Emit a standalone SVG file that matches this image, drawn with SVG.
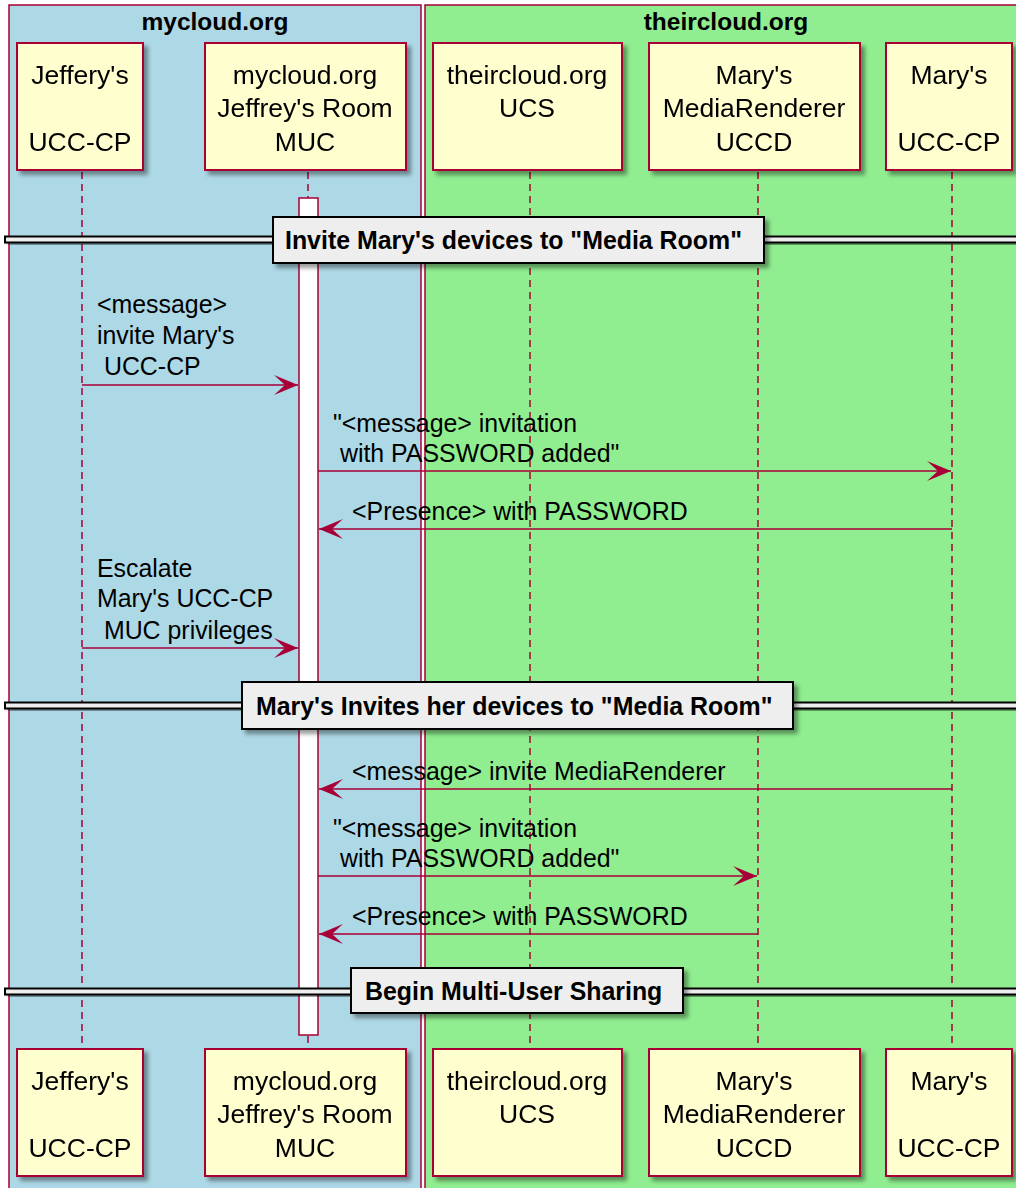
<svg xmlns="http://www.w3.org/2000/svg" width="1016" height="1188" viewBox="0 0 1016 1188">
<style>
.grp{stroke:#A80036;stroke-width:1.5}
.gt{font-family:"Liberation Sans",Arial,sans-serif;font-weight:bold;font-size:24.5px;fill:#000;text-anchor:middle}
.part{fill:#FEFECE;stroke:#A80036;stroke-width:2}
.pt{font-family:"Liberation Sans",Arial,sans-serif;font-size:26.5px;fill:#000;text-anchor:middle}
.life{stroke:#A80036;stroke-width:1.5;stroke-dasharray:7,5;fill:none}
.act{fill:#FFFFFF;stroke:#A80036;stroke-width:1.5}
.msg{stroke:#A80036;stroke-width:1.5;fill:none;marker-end:url(#ah)}
.mt{font-family:"Liberation Sans",Arial,sans-serif;font-size:24.9px;fill:#000;white-space:pre}
.dl{fill:#EEEEEE;stroke:#000;stroke-width:2}
.db{fill:#EEEEEE;stroke:#000;stroke-width:2}
.dt{font-family:"Liberation Sans",Arial,sans-serif;font-weight:bold;font-size:24.9px;fill:#000}
</style>
<defs>
<filter id="sh" x="-5%" y="-10%" width="115%" height="140%">
<feGaussianBlur in="SourceAlpha" stdDeviation="2"/>
<feOffset dx="4" dy="4" result="o"/>
<feComponentTransfer><feFuncA type="linear" slope="0.4"/></feComponentTransfer>
<feMerge><feMergeNode/><feMergeNode in="SourceGraphic"/></feMerge>
</filter>
<marker id="ah" markerUnits="userSpaceOnUse" viewBox="0 0 24 20" refX="24" refY="10" markerWidth="24" markerHeight="20" orient="auto">
<path d="M0,0 L24,10 L0,20 L11,10 Z" fill="#A80036"/>
</marker>
</defs>
<rect width="1016" height="1188" fill="#FFFFFF"/>

<g id="box-mycloud">
<rect class="grp" x="9" y="5" width="412" height="1200" fill="#ADD8E6"/>
<text class="gt" x="215" y="30">mycloud.org</text>
</g>
<g id="box-theircloud">
<rect class="grp" x="425" y="5" width="605" height="1200" fill="#90EE90"/>
<text class="gt" x="726" y="30">theircloud.org</text>
</g>

<g id="lifelines">
<line class="life" x1="82" y1="172" x2="82" y2="1049"/>
<line class="life" x1="308" y1="172" x2="308" y2="1049"/>
<line class="life" x1="530" y1="172" x2="530" y2="1049"/>
<line class="life" x1="758" y1="172" x2="758" y2="1049"/>
<line class="life" x1="952" y1="172" x2="952" y2="1049"/>
</g>

<g id="activation-muc">
<rect class="act" x="299" y="198" width="19" height="837"/>
</g>

<g id="p-jeffery-top" filter="url(#sh)">
<rect class="part" x="17" y="43" width="126" height="127"/>
<text class="pt" x="80" y="84">Jeffery's</text>
<text class="pt" x="80" y="151">UCC-CP</text>
</g>
<g id="p-muc-top" filter="url(#sh)">
<rect class="part" x="205" y="43" width="201" height="127"/>
<text class="pt" x="305" y="84">mycloud.org</text>
<text class="pt" x="305" y="117">Jeffrey's Room</text>
<text class="pt" x="305" y="151">MUC</text>
</g>
<g id="p-ucs-top" filter="url(#sh)">
<rect class="part" x="433" y="43" width="189" height="127"/>
<text class="pt" x="527" y="84">theircloud.org</text>
<text class="pt" x="527" y="117">UCS</text>
</g>
<g id="p-mr-top" filter="url(#sh)">
<rect class="part" x="649" y="43" width="211" height="127"/>
<text class="pt" x="754" y="84">Mary's</text>
<text class="pt" x="754" y="117">MediaRenderer</text>
<text class="pt" x="754" y="151">UCCD</text>
</g>
<g id="p-mary-top" filter="url(#sh)">
<rect class="part" x="886" y="43" width="126" height="127"/>
<text class="pt" x="949" y="84">Mary's</text>
<text class="pt" x="949" y="151">UCC-CP</text>
</g>

<g id="p-jeffery-bottom" filter="url(#sh)">
<rect class="part" x="17" y="1049" width="126" height="127"/>
<text class="pt" x="80" y="1090">Jeffery's</text>
<text class="pt" x="80" y="1157">UCC-CP</text>
</g>
<g id="p-muc-bottom" filter="url(#sh)">
<rect class="part" x="205" y="1049" width="201" height="127"/>
<text class="pt" x="305" y="1090">mycloud.org</text>
<text class="pt" x="305" y="1123">Jeffrey's Room</text>
<text class="pt" x="305" y="1157">MUC</text>
</g>
<g id="p-ucs-bottom" filter="url(#sh)">
<rect class="part" x="433" y="1049" width="189" height="127"/>
<text class="pt" x="527" y="1090">theircloud.org</text>
<text class="pt" x="527" y="1123">UCS</text>
</g>
<g id="p-mr-bottom" filter="url(#sh)">
<rect class="part" x="649" y="1049" width="211" height="127"/>
<text class="pt" x="754" y="1090">Mary's</text>
<text class="pt" x="754" y="1123">MediaRenderer</text>
<text class="pt" x="754" y="1157">UCCD</text>
</g>
<g id="p-mary-bottom" filter="url(#sh)">
<rect class="part" x="886" y="1049" width="126" height="127"/>
<text class="pt" x="949" y="1090">Mary's</text>
<text class="pt" x="949" y="1157">UCC-CP</text>
</g>

<g id="connectors">
<line class="msg" x1="82" y1="385" x2="298" y2="385"/>
<text class="mt" x="97" y="313" xml:space="preserve">&lt;message&gt;</text>
<text class="mt" x="97" y="344" xml:space="preserve">invite Mary's</text>
<text class="mt" x="97" y="375" xml:space="preserve"> UCC-CP</text>

<line class="msg" x1="318" y1="471" x2="951" y2="471"/>
<text class="mt" x="333" y="432" xml:space="preserve">"&lt;message&gt; invitation</text>
<text class="mt" x="333" y="462" xml:space="preserve"> with PASSWORD added"</text>

<line class="msg" x1="952" y1="529" x2="319" y2="529"/>
<text class="mt" x="352" y="520" xml:space="preserve">&lt;Presence&gt; with PASSWORD</text>

<line class="msg" x1="82" y1="648" x2="298" y2="648"/>
<text class="mt" x="97" y="577" xml:space="preserve">Escalate</text>
<text class="mt" x="97" y="607" xml:space="preserve">Mary's UCC-CP</text>
<text class="mt" x="97" y="639" xml:space="preserve"> MUC privileges</text>

<line class="msg" x1="952" y1="789" x2="319" y2="789"/>
<text class="mt" x="352" y="780" xml:space="preserve">&lt;message&gt; invite MediaRenderer</text>

<line class="msg" x1="318" y1="876" x2="757" y2="876"/>
<text class="mt" x="333" y="837" xml:space="preserve">"&lt;message&gt; invitation</text>
<text class="mt" x="333" y="867" xml:space="preserve"> with PASSWORD added"</text>

<line class="msg" x1="758" y1="934" x2="319" y2="934"/>
<text class="mt" x="352" y="925" xml:space="preserve">&lt;Presence&gt; with PASSWORD</text>
</g>

<g id="divider-1">
<rect class="dl" x="5" y="236.5" width="1030" height="6" filter="url(#sh)"/>
<rect class="db" x="273" y="217" width="491" height="46" filter="url(#sh)"/>
<text class="dt" x="285" y="249">Invite Mary's devices to "Media Room"</text>
</g>
<g id="divider-2">
<rect class="dl" x="5" y="702.5" width="1030" height="6" filter="url(#sh)"/>
<rect class="db" x="242" y="682" width="551" height="47" filter="url(#sh)"/>
<text class="dt" x="256" y="715">Mary's Invites her devices to "Media Room"</text>
</g>
<g id="divider-3">
<rect class="dl" x="5" y="988.5" width="1030" height="6" filter="url(#sh)"/>
<rect class="db" x="351" y="968" width="332" height="45" filter="url(#sh)"/>
<text class="dt" x="365" y="1000">Begin Multi-User Sharing</text>
</g>
</svg>
